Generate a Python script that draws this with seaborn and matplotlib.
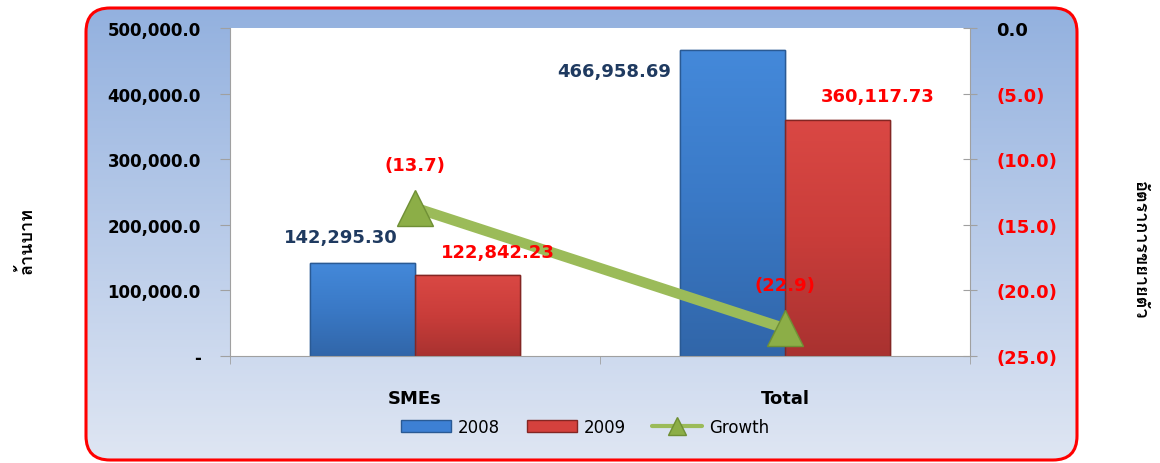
import numpy as np
import pandas as pd
import matplotlib
matplotlib.use('Agg')
import matplotlib.pyplot as plt
from matplotlib import font_manager, ft2font
from matplotlib.patches import FancyBboxPatch, Patch, Rectangle
from matplotlib.lines import Line2D
from matplotlib.colors import LinearSegmentedColormap
from matplotlib.ticker import FuncFormatter
import seaborn as sns

# ข้อมูลจากกราฟ
categories = ['SMEs', 'Total']
years = ['2008', '2009']
values_2008 = [142295.30, 466958.69]
values_2009 = [122842.23, 360117.73]
growth = [-13.7, -22.9]
left_label = 'ล้านบาท'
right_label = 'อัตราการขยายตัว'

sns.set_style('white')

# หาฟอนต์ที่มีตัวอักษรไทย
thai_family = None
for f in font_manager.fontManager.ttflist:
    try:
        if 0x0E25 in ft2font.FT2Font(f.fname).get_charmap():
            thai_family = f.name
            break
    except Exception:
        pass
plt.rcParams['font.family'] = ['DejaVu Sans'] + ([thai_family] if thai_family else [])
plt.rcParams['text.color'] = 'black'

df = pd.DataFrame({
    'category': categories * 2,
    'year': [years[0]] * 2 + [years[1]] * 2,
    'value': values_2008 + values_2009,
})

fig = plt.figure(figsize=(11.6, 4.64), dpi=100)
W, H = 1160, 464

# พื้นหลังกรอบมน ไล่สีฟ้า
bg_ax = fig.add_axes([0, 0, 1, 1], zorder=-10)
bg_ax.set_xlim(0, W)
bg_ax.set_ylim(H, 0)
bg_ax.axis('off')
box = FancyBboxPatch((86, 9), 991, 452, boxstyle='round,pad=0,rounding_size=24',
                     facecolor='none', edgecolor='#ff0000', linewidth=2.2)
grad = np.linspace(0, 1, 256).reshape(-1, 1)
bg_cmap = LinearSegmentedColormap.from_list('bg', ['#93b1df', '#dfe6f3'])
im = bg_ax.imshow(grad, cmap=bg_cmap, extent=(86, 1077, 461, 9), aspect='auto')
bg_ax.add_patch(box)
im.set_clip_path(box)

ax = fig.add_axes([230 / W, 1 - 357 / H, 740 / W, 328 / H])
ax.set_facecolor('white')
sns.barplot(data=df, x='category', y='value', hue='year', order=categories,
            hue_order=years, palette=['#3b7cca', '#cc3f3b'], width=0.57, gap=0,
            saturation=1, ax=ax, legend=False)

# ไล่สีให้แท่งแบบ 3 มิติ
bar_grads = [['#4489da', '#3a79c6', '#3166a9'], ['#da4844', '#c93d3a', '#a93230']]
edge_cols = ['#2a5a94', '#832623']
for cont, gcols, ec in zip(ax.containers, bar_grads, edge_cols):
    cm = LinearSegmentedColormap.from_list('b', gcols)
    for bar in cont:
        bar.set_edgecolor(ec)
        bar.set_linewidth(1.0)
        x0, w, h = bar.get_x(), bar.get_width(), bar.get_height()
        bim = ax.imshow(np.linspace(0, 1, 128).reshape(-1, 1), cmap=cm, aspect='auto',
                        extent=(x0, x0 + w, 0, h), origin='upper',
                        zorder=bar.get_zorder() + 0.1)
        bim.set_clip_path(bar)
        ax.add_patch(Rectangle((x0, 0), w, h, fill=False, edgecolor=ec,
                               linewidth=1.0, zorder=bar.get_zorder() + 0.2))

ax.set_ylim(0, 500000)
ax.set_xlim(-0.5, 1.5)
ax.set_yticks(np.arange(0, 500001, 100000))
ax.yaxis.set_major_formatter(FuncFormatter(lambda v, p: '-' if v == 0 else f'{v:,.1f}'))
ax.set_xlabel('')
ax.set_ylabel('')
for s in ['top', 'right']:
    ax.spines[s].set_visible(False)
for s in ['left', 'bottom']:
    ax.spines[s].set_color('#a0a0a0')
ax.tick_params(axis='y', left=True, direction='out', length=7, color='#a0a0a0',
               labelsize=12, labelcolor='black', pad=14)
ax.tick_params(axis='x', which='major', length=0, labelsize=13, labelcolor='black', pad=24)
ax.set_xticks([-0.5, 0.5, 1.5], minor=True)
ax.tick_params(axis='x', which='minor', bottom=True, direction='out', length=6, color='#a0a0a0')
for t in ax.get_yticklabels() + ax.get_xticklabels():
    t.set_fontweight('bold')

# แกนขวา อัตราการขยายตัว
ax2 = ax.twinx()
sns.pointplot(x=categories, y=growth, order=categories, color='#9bbb59',
              markers='^', markersize=26, linewidth=7.5, ax=ax2)
for ln in ax2.lines:
    ln.set_markerfacecolor('#8cae47')
    ln.set_markeredgecolor('#6f8f35')
    ln.set_markeredgewidth(1)
ax2.set_xlim(-0.5, 1.5)
ax2.set_ylim(-25, 0)
ax2.set_yticks(np.arange(-25, 1, 5))
ax2.yaxis.set_major_formatter(FuncFormatter(lambda v, p: '0.0' if v == 0 else f'({abs(v):.1f})'))
for s in ['top', 'left', 'bottom']:
    ax2.spines[s].set_visible(False)
ax2.spines['right'].set_color('#a0a0a0')
ax2.tick_params(axis='y', right=True, direction='inout', length=10, color='#a0a0a0',
                labelsize=13, pad=14)
for t in ax2.get_yticklabels():
    t.set_fontweight('bold')
    t.set_color('black' if t.get_text() == '0.0' else '#ff0000')
ax2.set_ylabel('')
ax2.set_xlabel('')

# ป้ายค่าของแท่ง (วาดบนแกนขวาเพื่อให้อยู่เหนือเส้น)
navy = '#1f3a60'
label_offsets = [[(-21, 26), (-118, -21)], [(30, 23), (40, 24)]]
label_colors = [navy, '#ff0000']
for cont, offs, col in zip(ax.containers, label_offsets, label_colors):
    for bar, off in zip(cont, offs):
        x = bar.get_x() + bar.get_width() / 2
        h = bar.get_height()
        ax2.annotate(f'{h:,.2f}', (x, h), xycoords=ax.transData, xytext=off,
                     textcoords='offset pixels', ha='center', va='center', fontsize=13,
                     fontweight='bold', color=col, annotation_clip=False)

for i, g in enumerate(growth):
    ax2.annotate(f'({abs(g):.1f})', (i, g), xytext=(0, 43), textcoords='offset pixels',
                 ha='center', va='center', fontsize=13, fontweight='bold', color='#ff0000')

fig.text(26 / W, 1 - 240 / H, left_label, rotation=90, ha='center', va='center',
         fontsize=13, fontweight='bold')
fig.text(1140 / W, 1 - 250 / H, right_label, rotation=270, ha='center', va='center',
         fontsize=13, fontweight='bold')

# คำอธิบาย
handles = [Patch(facecolor='#3d80d4', edgecolor='#2a5a94', label='2008'),
           Patch(facecolor='#d4413d', edgecolor='#832623', label='2009'),
           Line2D([], [], color='#9bbb59', lw=3, marker='^', markersize=13,
                  markerfacecolor='#8cae47', markeredgecolor='#6f8f35', label='Growth')]
fig.legend(handles=handles, loc='center', bbox_to_anchor=(585 / W, 1 - 428 / H), ncol=3,
           frameon=False, fontsize=12, handlelength=3.0, handleheight=0.7,
           columnspacing=1.6, handletextpad=0.4)

fig.savefig('out.png', dpi=100)
